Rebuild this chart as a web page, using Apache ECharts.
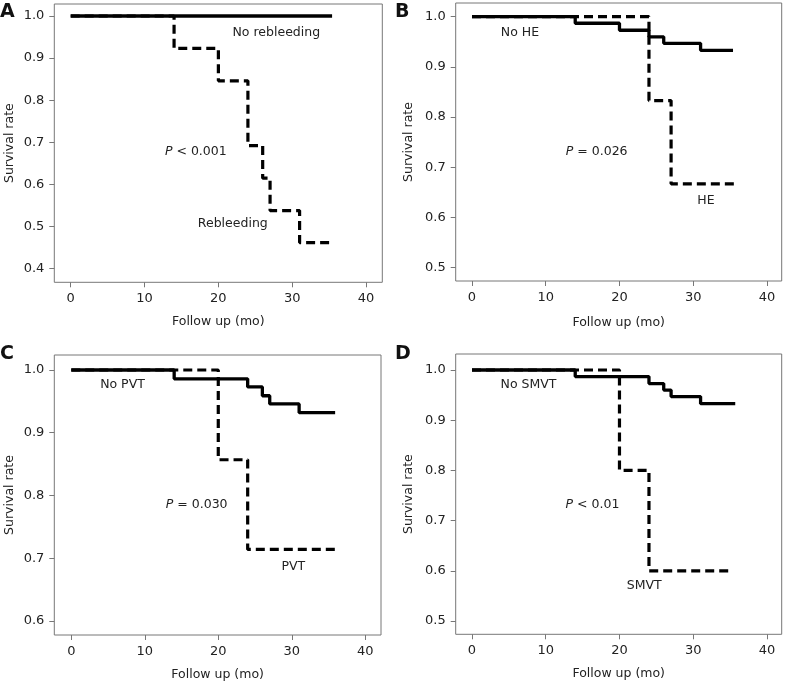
<!DOCTYPE html>
<html>
<head>
<meta charset="utf-8">
<script src="https://cdn.jsdelivr.net/npm/echarts@6/dist/echarts.min.js"></script>
<style>
  html, body { margin: 0; padding: 0; background: #fff; }
  #main { width: 785px; height: 687px; }
</style>
</head>
<body>
<div id="main"></div>
<script>
// tick values
var xTicks = [0, 10, 20, 30, 40]
var yTicksA = [0.4, 0.5, 0.6, 0.7, 0.8, 0.9, 1.0]
var yTicksB = [0.5, 0.6, 0.7, 0.8, 0.9, 1.0]
var yTicksC = [0.6, 0.7, 0.8, 0.9, 1.0]
var yTicksD = [0.5, 0.6, 0.7, 0.8, 0.9, 1.0]

// A: rebleeding
var timeA_no = [0, 35.4]
var survA_no = [1, 1]
var timeA_yes = [0, 14, 20, 24, 26, 27, 31, 35.4]
var survA_yes = [1, 0.923, 0.846, 0.692, 0.615, 0.538, 0.462, 0.462]

// B: HE
var timeB_no = [0, 14, 20, 24, 26, 31, 35.4]
var survB_no = [1, 0.987, 0.973, 0.96, 0.947, 0.933, 0.933]
var timeB_yes = [0, 24, 27, 36.1]
var survB_yes = [1, 0.833, 0.667, 0.667]

// C: PVT
var timeC_no = [0, 14, 24, 26, 27, 31, 35.9]
var survC_no = [1, 0.986, 0.973, 0.959, 0.946, 0.932, 0.932]
var timeC_yes = [0, 20, 24, 35.9]
var survC_yes = [1, 0.857, 0.714, 0.714]

// D: SMVT
var timeD_no = [0, 14, 24, 26, 27, 31, 35.7]
var survD_no = [1, 0.987, 0.973, 0.96, 0.947, 0.933, 0.933]
var timeD_yes = [0, 20, 24, 35]
var survD_yes = [1, 0.8, 0.6, 0.6]

var FONT = 'DejaVu Sans'
var TXT = '#222'
var FRAME = '#777'

function pairs(t, s) {
  return t.map(function (v, i) { return [v, s[i]] })
}

// 每个面板的网格和坐标范围（像素）
var panels = [
  { grid: { left: 54.3, top: 4, width: 328, height: 278.3 }, x: [-2.22, 42.2], y: [0.3677, 1.0285], yTicks: yTicksA, xGap: 33,
    no: pairs(timeA_no, survA_no), yes: pairs(timeA_yes, survA_yes) },
  { grid: { left: 455.7, top: 3, width: 326, height: 278 }, x: [-2.21, 42.0], y: [0.4735, 1.0273], yTicks: yTicksB, xGap: 35,
    no: pairs(timeB_no, survB_no), yes: pairs(timeB_yes, survB_yes) },
  { grid: { left: 54.3, top: 355, width: 326.7, height: 280 }, x: [-2.31, 42.14], y: [0.5777, 1.0239], yTicks: yTicksC, xGap: 33,
    no: pairs(timeC_no, survC_no), yes: pairs(timeC_yes, survC_yes) },
  { grid: { left: 455.7, top: 354, width: 326, height: 280.3 }, x: [-2.21, 42.0], y: [0.4735, 1.0319], yTicks: yTicksD, xGap: 33,
    no: pairs(timeD_no, survD_no), yes: pairs(timeD_yes, survD_yes) }
]

var grids = [], xAxes = [], yAxes = [], series = []
panels.forEach(function (p, i) {
  grids.push(Object.assign({ show: true, borderColor: FRAME, borderWidth: 1, backgroundColor: 'transparent', outerBoundsMode: 'none' }, p.grid))
  xAxes.push({
    type: 'value', gridIndex: i, min: p.x[0], max: p.x[1], position: 'bottom',
    name: 'Follow up (mo)', nameLocation: 'middle', nameGap: p.xGap, nameMoveOverlap: false,
    nameTextStyle: { fontFamily: FONT, fontSize: 12.5, color: TXT },
    axisLine: { show: false, onZero: false },
    axisTick: { show: true, inside: false, length: 5, customValues: xTicks, lineStyle: { color: FRAME, width: 1 } },
    axisLabel: { customValues: xTicks, margin: 10, fontFamily: FONT, fontSize: 13, color: TXT },
    splitLine: { show: false }
  })
  yAxes.push({
    type: 'value', gridIndex: i, min: p.y[0], max: p.y[1], position: 'left',
    name: 'Survival rate', nameLocation: 'middle', nameGap: i % 2 ? 40 : 38.5, nameMoveOverlap: false,
    nameTextStyle: { fontFamily: FONT, fontSize: 12.5, color: TXT },
    axisLine: { show: false, onZero: false },
    axisTick: { show: true, inside: false, length: 5, customValues: p.yTicks, lineStyle: { color: FRAME, width: 1 } },
    axisLabel: { customValues: p.yTicks, margin: 10, fontFamily: FONT, fontSize: 13, color: TXT,
      formatter: function (v) { return v.toFixed(1) } },
    splitLine: { show: false }
  })
  series.push({
    type: 'line', xAxisIndex: i, yAxisIndex: i, step: 'end', symbol: 'none', z: 2,
    lineStyle: { color: '#000', width: 3.2, type: [9, 5], cap: 'butt' },
    data: p.yes
  })
  series.push({
    type: 'line', xAxisIndex: i, yAxisIndex: i, step: 'end', symbol: 'none', z: 3,
    lineStyle: { color: '#000', width: 3.3, cap: 'butt' },
    data: p.no
  })
})

function txt(x, y, s) {
  return {
    type: 'text', x: x, y: y,
    style: {
      text: s, fill: TXT, font: '12.5px "' + FONT + '"', align: 'center', verticalAlign: 'middle',
      rich: { i: { fontStyle: 'italic', fontFamily: FONT, fontSize: 12.5, fill: TXT } }
    }
  }
}
function letter(x, y, s) {
  return { type: 'text', x: x, y: y, style: { text: s, fill: '#111', font: 'bold 19px "' + FONT + '"', align: 'left', verticalAlign: 'middle' } }
}

var graphics = [
  letter(0, 12, 'A'), letter(395, 12, 'B'), letter(0, 354, 'C'), letter(395, 354, 'D'),
  txt(276.3, 32.3, 'No rebleeding'), txt(195.8, 151.7, '{i|P} < 0.001'), txt(232.8, 224, 'Rebleeding'),
  txt(520, 32.3, 'No HE'), txt(596.7, 151.7, '{i|P} = 0.026'), txt(706, 200.7, 'HE'),
  txt(122.5, 385, 'No PVT'), txt(196.7, 505, '{i|P} = 0.030'), txt(293.3, 566.7, 'PVT'),
  txt(528.5, 385, 'No SMVT'), txt(592.5, 505, '{i|P} < 0.01'), txt(644.3, 585.7, 'SMVT')
]

var chart = echarts.init(document.getElementById('main'), null, { renderer: 'canvas' })
chart.setOption({
  animation: false,
  backgroundColor: '#fff',
  grid: grids,
  xAxis: xAxes,
  yAxis: yAxes,
  series: series,
  graphic: { elements: graphics }
})
</script>
</body>
</html>
